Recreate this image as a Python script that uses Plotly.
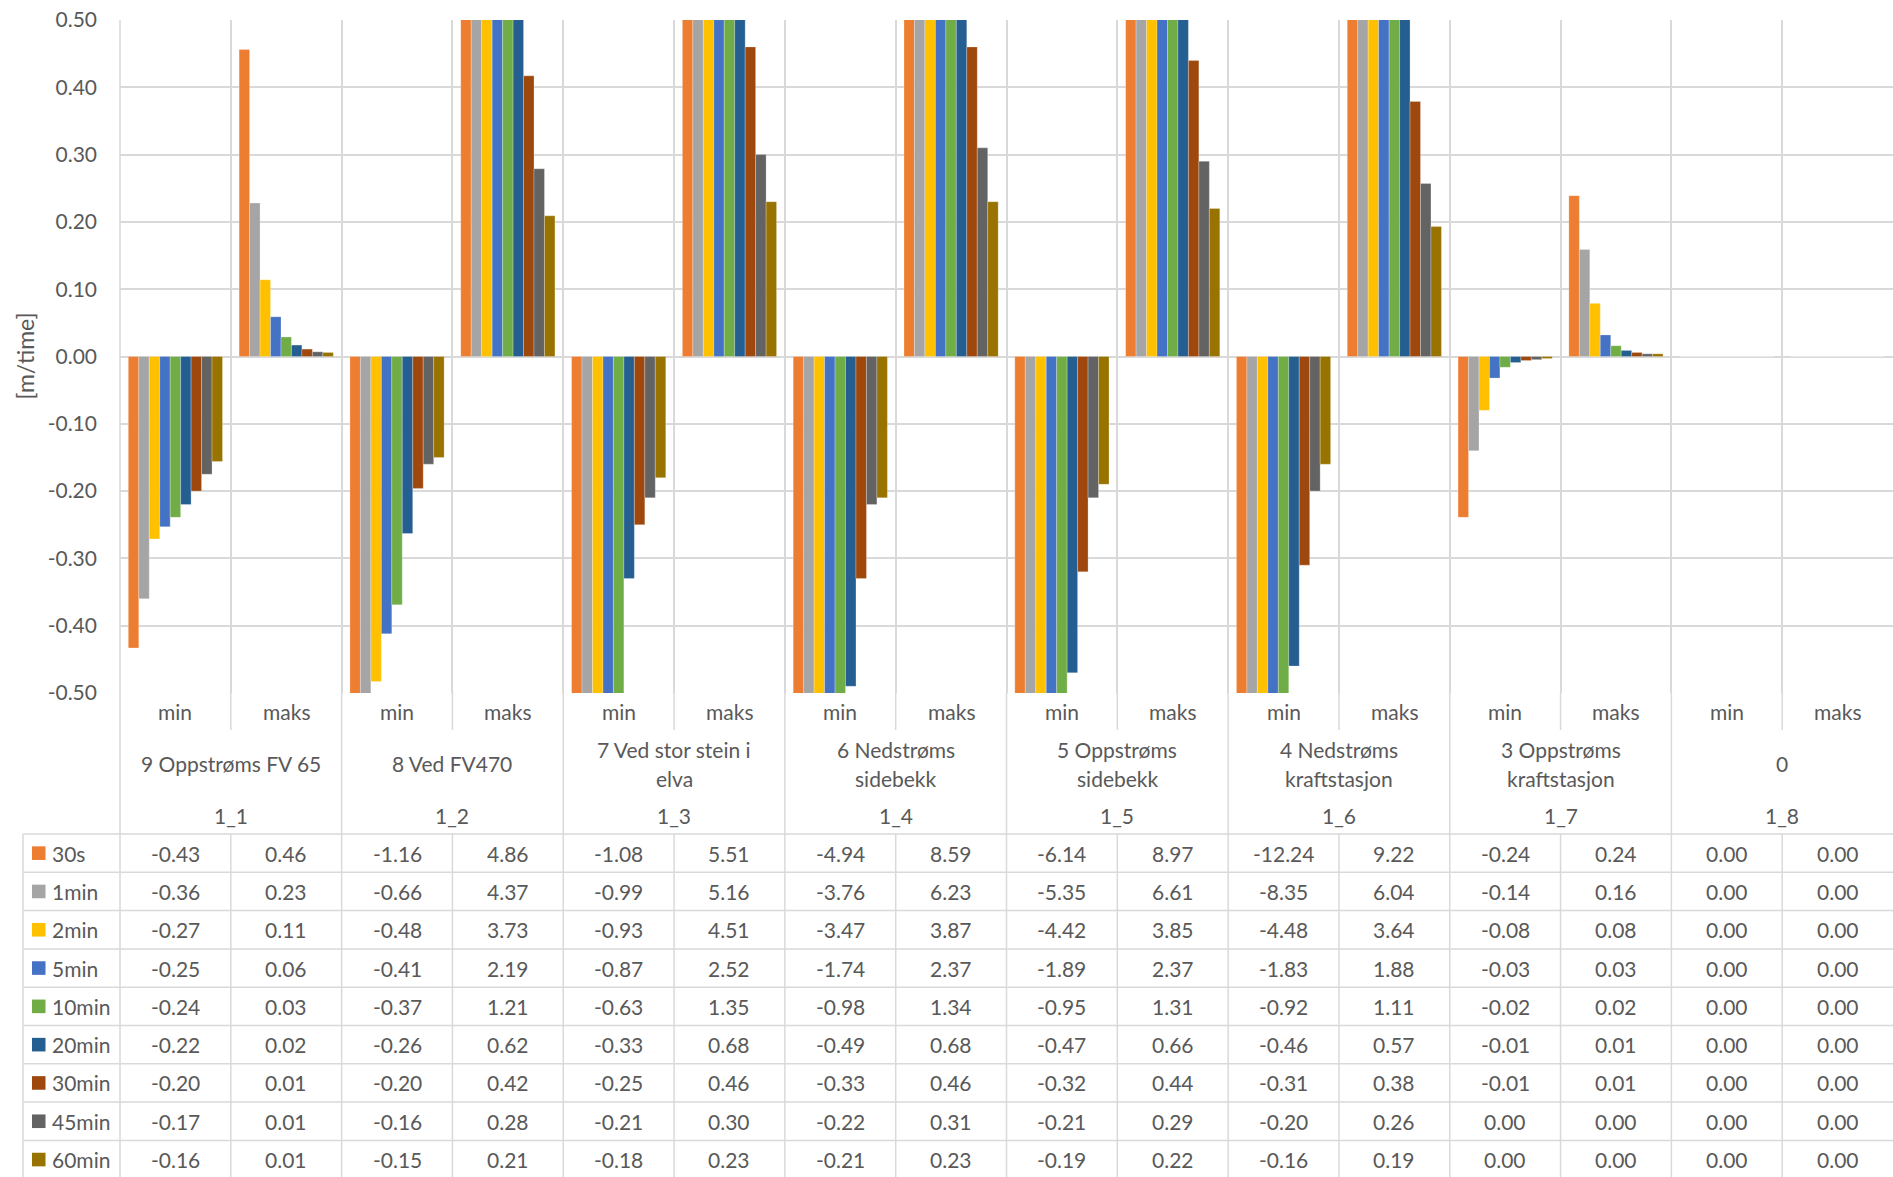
import plotly.graph_objects as go

# ---------------- data ----------------
series = ["30s", "1min", "2min", "5min", "10min", "20min", "30min", "45min", "60min"]
colors = ["#ED7D31", "#A5A5A5", "#FFC000", "#4472C4", "#70AD47",
          "#255E91", "#9E480E", "#636363", "#997300"]
sub_labels = ["min", "maks"] * 8
locations = ["9 Oppstrøms FV 65", "8 Ved FV470", "7 Ved stor stein i<br>elva",
             "6 Nedstrøms<br>sidebekk", "5 Oppstrøms<br>sidebekk",
             "4 Nedstrøms<br>kraftstasjon", "3 Oppstrøms<br>kraftstasjon", "0"]
ids = ["1_1", "1_2", "1_3", "1_4", "1_5", "1_6", "1_7", "1_8"]

v_30s = [-0.433, 0.456, -1.16, 4.86, -1.08, 5.51, -4.94, 8.59, -6.14, 8.97, -12.24, 9.22, -0.239, 0.239, 0.0, 0.0]
v_1min = [-0.360, 0.228, -0.66, 4.37, -0.99, 5.16, -3.76, 6.23, -5.35, 6.61, -8.35, 6.04, -0.140, 0.159, 0.0, 0.0]
v_2min = [-0.271, 0.114, -0.483, 3.73, -0.93, 4.51, -3.47, 3.87, -4.42, 3.85, -4.48, 3.64, -0.080, 0.079, 0.0, 0.0]
v_5min = [-0.253, 0.059, -0.412, 2.19, -0.87, 2.52, -1.74, 2.37, -1.89, 2.37, -1.83, 1.88, -0.032, 0.032, 0.0, 0.0]
v_10min = [-0.239, 0.029, -0.369, 1.21, -0.63, 1.35, -0.98, 1.34, -0.95, 1.31, -0.92, 1.11, -0.016, 0.016, 0.0, 0.0]
v_20min = [-0.220, 0.017, -0.263, 0.62, -0.33, 0.68, -0.49, 0.68, -0.47, 0.66, -0.46, 0.57, -0.009, 0.009, 0.0, 0.0]
v_30min = [-0.200, 0.011, -0.196, 0.417, -0.25, 0.46, -0.33, 0.46, -0.32, 0.44, -0.31, 0.379, -0.006, 0.006, 0.0, 0.0]
v_45min = [-0.175, 0.007, -0.160, 0.279, -0.21, 0.30, -0.22, 0.31, -0.21, 0.29, -0.20, 0.257, -0.0047, 0.004, 0.0, 0.0]
v_60min = [-0.156, 0.006, -0.150, 0.209, -0.18, 0.23, -0.21, 0.23, -0.19, 0.22, -0.16, 0.193, -0.003, 0.004, 0.0, 0.0]
values = [v_30s, v_1min, v_2min, v_5min, v_10min, v_20min, v_30min, v_45min, v_60min]

y_ticks = [-0.5, -0.4, -0.3, -0.2, -0.1, 0.0, 0.1, 0.2, 0.3, 0.4, 0.5]

# ---------------- layout geometry ----------------
W, H = 1893, 1177
L, T, B = 120, 20, 484
plot_w = W - L
plot_h = H - T - B
FONT = "Lato"
TXT = "#595959"
GRID = "#D9D9D9"
FS = 21


def py(y):
    return (H - B - y) / plot_h


def pxp(x):
    return (x - L) / plot_w


ncat = len(sub_labels)
xpos = list(range(ncat))

fig = go.Figure()
for name, col, vals in zip(series, colors, values):
    fig.add_trace(go.Bar(
        x=xpos, y=vals, name=name,
        marker=dict(color=col, line=dict(color="rgba(255,255,255,0.5)", width=0.5)),
        showlegend=False,
    ))

annotations = []
shapes = []

# y axis title
annotations.append(dict(text="[m/time]", xref="paper", yref="paper",
                        x=pxp(24), y=0.5, textangle=-90, showarrow=False,
                        font=dict(family=FONT, size=23, color=TXT),
                        xanchor="center", yanchor="middle"))

# category labels
for i, lab in enumerate(sub_labels):
    annotations.append(dict(text=lab, xref="x", yref="paper", x=i, y=py(712),
                            showarrow=False, xanchor="center", yanchor="middle",
                            font=dict(family=FONT, size=FS, color=TXT)))
for g, (loc, idn) in enumerate(zip(locations, ids)):
    parts = loc.split("<br>")
    ys = [763] if len(parts) == 1 else [749, 778]
    for part, yy in zip(parts, ys):
        annotations.append(dict(text=part, xref="x", yref="paper", x=2 * g + 0.5, y=py(yy),
                                showarrow=False, xanchor="center", yanchor="middle",
                                font=dict(family=FONT, size=FS, color=TXT)))
    annotations.append(dict(text=idn, xref="x", yref="paper", x=2 * g + 0.5, y=py(815),
                            showarrow=False, xanchor="center", yanchor="middle",
                            font=dict(family=FONT, size=FS, color=TXT)))

# data table
table_top = 834
row_h = 38.3


def fmt(v):
    s = f"{v:.2f}"
    return "0.00" if s == "-0.00" else s


for r, (name, col, vals) in enumerate(zip(series, colors, values)):
    yc = table_top + row_h * (r + 0.5)
    for i, v in enumerate(vals):
        annotations.append(dict(text=fmt(v), xref="x", yref="paper", x=i, y=py(yc),
                                showarrow=False, xanchor="center", yanchor="middle",
                                font=dict(family=FONT, size=FS, color=TXT)))
    annotations.append(dict(text=name, xref="paper", yref="paper", x=pxp(50), y=py(yc),
                            showarrow=False, xanchor="left", yanchor="middle",
                            font=dict(family=FONT, size=FS, color=TXT)))
    shapes.append(dict(type="rect", xref="paper", yref="paper",
                       x0=pxp(32), x1=pxp(45.5), y0=py(yc - 6.8), y1=py(yc + 6.8),
                       fillcolor=col, line=dict(width=0)))

line_style = dict(color=GRID, width=1.5)
# horizontal table lines
for r in range(9):
    y = table_top + row_h * r
    shapes.append(dict(type="line", xref="paper", yref="paper", x0=pxp(23), x1=1,
                       y0=py(y), y1=py(y), line=line_style, layer="below"))
# table left border
shapes.append(dict(type="line", xref="paper", yref="paper", x0=pxp(23), x1=pxp(23),
                   y0=py(table_top), y1=py(H + 5), line=line_style))
# plot left border extended down
shapes.append(dict(type="line", xref="paper", yref="paper", x0=0, x1=0,
                   y0=1, y1=py(H + 5), line=line_style))
# category boundaries below the plot
for k in range(ncat - 1):
    xb = k + 0.5
    if k % 2 == 0:
        shapes.append(dict(type="line", xref="x", yref="paper", x0=xb, x1=xb,
                           y0=0, y1=py(730), line=line_style))
        shapes.append(dict(type="line", xref="x", yref="paper", x0=xb, x1=xb,
                           y0=py(table_top), y1=py(H + 5), line=line_style))
    else:
        shapes.append(dict(type="line", xref="x", yref="paper", x0=xb, x1=xb,
                           y0=0, y1=py(H + 5), line=line_style))

fig.update_layout(
    width=W, height=H,
    margin=dict(l=L, r=0, t=T, b=B, pad=0),
    paper_bgcolor="white", plot_bgcolor="white",
    barmode="group", bargap=0.15, bargroupgap=0,
    font=dict(family=FONT, size=FS, color=TXT),
    annotations=annotations, shapes=shapes,
    xaxis=dict(range=[-0.5, ncat - 0.5], tickmode="array",
               tickvals=[k - 0.5 for k in range(ncat + 1)],
               showticklabels=False, ticks="", showgrid=True,
               gridcolor=GRID, gridwidth=1.5, zeroline=False, showline=False),
    yaxis=dict(range=[-0.5, 0.5], tickmode="array", tickvals=y_ticks,
               ticktext=[f"{v:.2f}" for v in y_ticks],
               tickfont=dict(family=FONT, size=FS, color=TXT),
               showgrid=True, gridcolor=GRID, gridwidth=1.5,
               zeroline=True, zerolinecolor=GRID, zerolinewidth=1.5,
               showline=False, ticks="", ticklabelstandoff=22),
)

fig.write_html("out.html", config={"displayModeBar": False},
               post_script="document.body.style.margin='0';document.body.style.overflow='hidden';")
